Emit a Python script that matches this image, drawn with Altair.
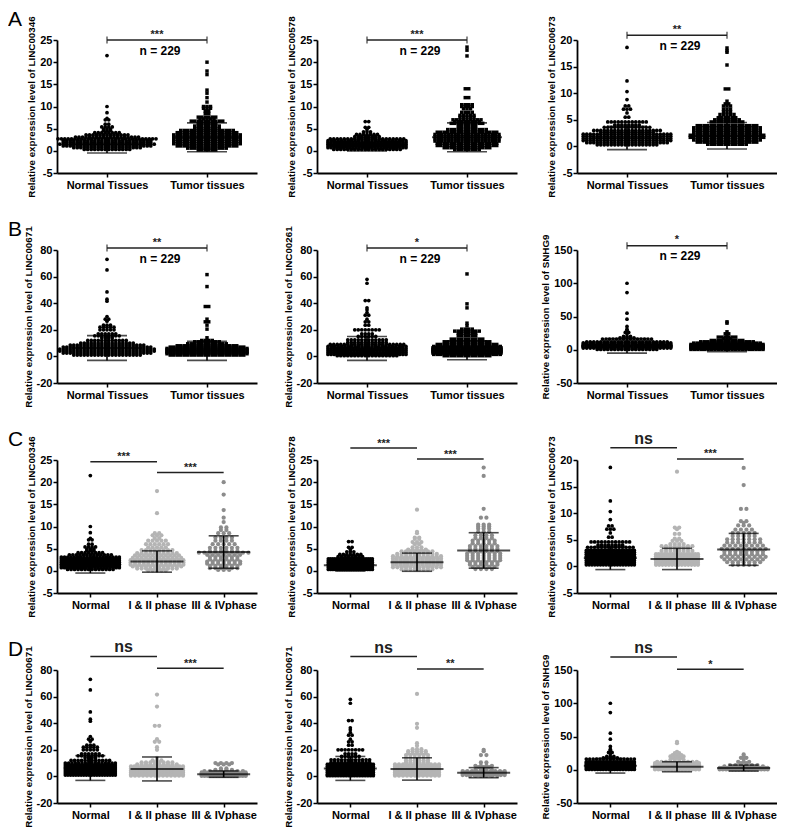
import altair as alt
import pandas as pd

FONT = "Liberation Sans"
W, H = 200, 133

# ---------------- data: (value, number of points in that row) ----------------
NORMAL_LINC00346 = [(21.5,1),(10.0,1),(8.6,1),(7.3,1),(7.0,2),(6.0,2),(5.4,4),(4.9,3),(4.6,3),(4.1,8),(3.6,13),(3.1,19),(2.7,30),(2.3,26),(1.9,26),(1.5,28),(1.1,26),(0.7,20),(0.3,14)]
TUMOR_LINC00346 = [(20.0,1),(18.0,1),(17.2,1),(13.7,1),(13.0,1),(12.0,1),(11.0,1),(10.0,3),(9.6,3),(9.0,2),(8.4,2),(7.6,6),(7.2,5),(6.7,10),(6.2,6),(5.6,8),(5.0,8),(4.6,16),(4.1,18),(3.6,20),(3.1,20),(2.6,20),(2.1,20),(1.6,20),(1.1,18),(0.6,12),(0.2,6)]
EARLY_LINC00346 = [(18.0,1),(13.0,1),(8.5,2),(8.0,3),(7.4,2),(6.8,5),(6.0,6),(5.3,5),(4.7,8),(4.0,10),(3.5,11),(2.9,12),(2.4,13),(1.9,13),(1.4,13),(1.0,12),(0.5,10),(0.1,5)]
LATE_LINC00346 = [(20.0,1),(17.2,1),(13.7,1),(12.0,1),(11.0,1),(9.8,2),(9.2,2),(8.5,3),(7.5,4),(6.8,4),(6.0,5),(5.2,6),(4.5,6),(4.1,10),(3.6,7),(3.1,6),(2.6,6),(2.1,7),(1.6,7),(1.1,6),(0.6,6),(0.2,3)]

NORMAL_LINC00578 = [(6.6,2),(5.3,2),(4.8,1),(4.3,3),(3.7,7),(3.2,8),(3.0,6),(2.7,22),(2.3,24),(1.9,26),(1.5,28),(1.1,28),(0.7,26),(0.3,20)]
TUMOR_LINC00578 = [(23.4,1),(22.7,1),(21.4,1),(14.0,2),(12.0,2),(10.4,4),(10.0,4),(9.5,3),(8.7,4),(8.0,5),(7.6,5),(7.0,9),(6.6,8),(6.2,10),(5.5,6),(4.8,12),(4.2,18),(3.7,20),(3.2,20),(2.7,20),(2.2,20),(1.7,18),(1.2,18),(0.7,14),(0.3,8)]
EARLY_LINC00578 = [(13.8,1),(8.8,1),(8.5,1),(7.5,2),(7.2,2),(6.5,3),(6.0,2),(5.3,3),(4.8,5),(4.4,8),(3.8,10),(3.3,12),(2.8,14),(2.3,14),(1.8,14),(1.3,14),(0.8,12),(0.3,8)]
LATE_LINC00578 = [(23.3,1),(21.4,1),(14.0,1),(12.0,2),(10.4,3),(10.0,3),(9.5,3),(8.8,3),(8.0,4),(7.4,4),(6.8,5),(6.2,5),(5.6,6),(5.0,6),(4.5,6),(3.9,7),(3.4,7),(2.9,7),(2.4,7),(1.9,6),(1.4,6),(0.9,5),(0.4,4)]

NORMAL_LINC00673 = [(18.6,1),(12.3,1),(10.3,1),(8.8,1),(7.6,2),(7.0,3),(6.3,1),(5.5,2),(4.6,12),(4.0,8),(3.6,14),(3.0,20),(2.65,16),(2.3,26),(1.9,26),(1.5,26),(1.1,26),(0.7,24),(0.3,18)]
TUMOR_LINC00673 = [(18.5,1),(18.0,1),(17.7,1),(15.3,1),(10.8,2),(8.5,1),(8.0,2),(7.6,3),(7.0,3),(6.5,3),(6.0,5),(5.4,6),(5.0,8),(4.6,10),(3.9,18),(3.5,20),(3.0,20),(2.6,20),(2.1,22),(1.7,22),(1.2,20),(0.8,18),(0.4,12)]
EARLY_LINC00673 = [(17.8,1),(7.3,2),(7.0,1),(6.1,2),(5.2,2),(4.8,3),(4.2,4),(3.8,8),(3.4,6),(2.9,8),(2.3,16),(1.9,18),(1.5,18),(1.1,18),(0.7,18),(0.3,14)]
LATE_LINC00673 = [(18.5,1),(15.3,1),(10.8,2),(8.5,2),(8.2,1),(7.7,3),(6.9,4),(6.3,5),(5.7,5),(5.1,7),(4.5,7),(3.9,8),(3.3,9),(2.8,8),(2.3,8),(1.8,9),(1.3,8),(0.8,7),(0.3,5)]

NORMAL_LINC00671 = [(73,1),(65,1),(48.5,1),(43,1),(41.5,1),(30,1),(28,2),(26.5,1),(23.5,3),(22,5),(20,5),(17,6),(15.5,8),(14,4),(12,12),(10,16),(8.5,22),(7,26),(5.5,28),(4,28),(2.5,26),(1,20)]
TUMOR_LINC00671 = [(61.5,1),(52.5,1),(37.5,2),(28,1),(26,2),(23.5,1),(20.5,1),(14,1),(12,4),(11,8),(9.5,12),(8,18),(7,22),(6,24),(5,24),(4,24),(3,24),(2,24),(1,22)]
EARLY_LINC00671 = [(61.5,1),(52.5,1),(38,2),(28,1),(26,2),(22,1),(20,1),(14,1),(12,3),(10.5,8),(9,10),(7.5,16),(6,18),(4.5,18),(3,18),(1.5,18),(0.5,14)]
LATE_LINC00671 = [(10,4),(9,3),(6,2),(5,4),(4,8),(3,14),(2,20),(1,22),(0.3,16)]

NORMAL_LINC00261 = [(58,1),(55,1),(42,2),(36.5,1),(35,1),(33,1),(31,2),(28,1),(26,2),(23.5,2),(20,8),(17,4),(15,6),(12.5,12),(10.5,12),(9,22),(7.5,24),(6,26),(4.5,28),(3,28),(1.5,26),(0.5,18)]
TUMOR_LINC00261 = [(62,1),(39.5,1),(36.5,1),(25,1),(23,1),(20.5,4),(19,8),(17.5,6),(15.5,6),(13,10),(11,14),(9,18),(7.5,20),(6.5,22),(5.5,22),(4.5,22),(3.5,22),(2.5,22),(1.5,20),(0.5,14)]
EARLY_LINC00261 = [(62,1),(39.5,1),(36.5,1),(25,1),(23,1),(20.5,3),(19,5),(17.5,5),(16,6),(14,6),(12,6),(10.5,6),(9,12),(7.5,16),(6,18),(4.5,18),(3,18),(1.5,16),(0.5,12)]
LATE_LINC00261 = [(20,1),(19,1),(16,2),(10.5,2),(8,4),(7,3),(6,2),(5,4),(4,10),(3,16),(2,14),(1,12),(0.3,6)]

NORMAL_SNHG9 = [(100,1),(86,1),(55,1),(46,1),(35,1),(31,1),(29,1),(26,2),(24,1),(20,3),(18,5),(16,15),(12,24),(10.5,26),(8.5,26),(6.5,28),(4.5,28),(2.5,26),(0.5,18)]
TUMOR_SNHG9 = [(42,1),(40,1),(27,1),(24,2),(23,1),(19,6),(17,3),(14,10),(12,16),(10,20),(8,24),(6.5,26),(5,28),(3.5,28),(2,28),(0.5,22)]
EARLY_SNHG9 = [(42,1),(40,1),(27,1),(25,2),(22,3),(20,4),(18,3),(15,4),(12,10),(10,14),(8,16),(6,18),(4,18),(2,18),(0.5,14)]
LATE_SNHG9 = [(23,1),(20,1),(18,2),(16,1),(12,3),(10,2),(7,6),(5,8),(3,20),(1.5,24),(0.5,16)]

# mean and SD per group
MEAN_SD_AB = {
    "LINC00346": [(1.5, 2.0), (3.05, 3.25)],
    "LINC00578": [(1.25, 1.3), (3.05, 3.25)],
    "LINC00673": [(1.6, 2.2), (2.0, 2.5)],
    "LINC00671": [(6.3, 9.3), (4.2, 7.2)],
    "LINC00261": [(6.0, 9.0), (4.5, 7.0)],
    "SNHG9": [(6.0, 11.0), (3.5, 6.5)],
}
MEAN_SD_CD = {
    "LINC00346": [(1.5, 2.0), (2.1, 2.4), (4.25, 3.65)],
    "LINC00578": [(1.25, 1.3), (1.95, 2.05), (4.6, 4.0)],
    "LINC00673": [(1.6, 2.2), (1.4, 2.0), (3.2, 3.0)],
    "LINC00671": [(6.3, 9.3), (5.6, 9.0), (1.7, 2.4)],
    "LINC00261": [(6.0, 9.0), (5.6, 8.4), (2.8, 3.8)],
    "SNHG9": [(6.0, 11.0), (4.5, 7.5), (2.5, 4.5)],
}

CATS_AB = ["Normal Tissues", "Tumor tissues"]
CATS_CD = ["Normal", "I &  II phase", "III & IVphase"]

DOMAINS = {"LINC00346": [-5, 25], "LINC00578": [-5, 25], "LINC00673": [-5, 20],
           "LINC00671": [-20, 80], "LINC00261": [-20, 80], "SNHG9": [-50, 150]}
TICKS = {"LINC00346": [-5, 0, 5, 10, 15, 20, 25], "LINC00578": [-5, 0, 5, 10, 15, 20, 25],
         "LINC00673": [-5, 0, 5, 10, 15, 20], "LINC00671": [-20, 0, 20, 40, 60, 80],
         "LINC00261": [-20, 0, 20, 40, 60, 80], "SNHG9": [-50, 0, 50, 100, 150]}

# significance brackets: (level, label)
BRACKET_AB = {"LINC00346": (25, "***"), "LINC00578": (25, "***"), "LINC00673": (20.9, "**"),
              "LINC00671": (81.5, "**"), "LINC00261": (81.5, "*"), "SNHG9": (156.5, "*")}
BRACKET_CD = {"LINC00346": [(24.6, "***"), (22.2, "***")],
              "LINC00578": [(27.7, "***"), (25.2, "***")],
              "LINC00673": [(22.3, "ns"), (20.2, "***")],
              "LINC00671": [(90.2, "ns"), (81.4, "***")],
              "LINC00261": [(90.1, "ns"), (80.8, "**")],
              "SNHG9": [(169.6, "ns"), (151.0, "*")]}

# ---------------- styles (marker look and maximal cloud width in px per group) ----------------
STYLE = {
    "nab": dict(color="#000000", shape="circle", size=14, sp=3.5),
    "tab": dict(color="#000000", shape="square", size=12, sp=3.5),
    "ncd": dict(color="#000000", shape="circle", size=14, sp=3.5),
    "i2": dict(color="#b4b4b4", shape="circle", size=18, sp=4.4),
    "i34": dict(color="#8c8c8c", shape="circle", size=18, sp=5.5),
}
CLOUD_W_AB = {"LINC00346": (98, 80), "LINC00578": (78, 64), "LINC00673": (88, 74),
              "LINC00671": (100, 80), "LINC00261": (78, 68), "SNHG9": (88, 72)}
CLOUD_W_CD = {"LINC00346": (58, 54, 58), "LINC00578": (44, 48, 60), "LINC00673": (48, 42, 46),
              "LINC00671": (50, 52, 44), "LINC00261": (46, 44, 42), "SNHG9": (48, 44, 48)}


def beeswarm(rows, sp, maxw):
    ys, offs = [], []
    for v, n in rows:
        s = sp if n < 2 else min(sp, maxw / (n - 1))
        for i in range(n):
            ys.append(v)
            offs.append((i - (n - 1) / 2) * s)
    return ys, offs


def panel(cats, groups, stats, gene_key, ytitle, brackets, ab, letter=None):
    n = len(cats)
    step = W / n
    domain = DOMAINS[gene_key]
    label_array = "[" + ",".join("'" + c + "'" for c in cats) + "]"
    xaxis = alt.Axis(values=list(range(n)), labelExpr=label_array + "[datum.value]",
                     labelAngle=0, labelFontSize=11, labelPadding=2, tickSize=4, tickWidth=1.5,
                     domainWidth=1.8, labelLimit=300, labelFlush=False, labelOverlap=False)
    xscale = alt.Scale(domain=[-0.5, n - 0.5], nice=False, zero=False)
    yaxis = alt.Axis(values=TICKS[gene_key], labelExpr="'' + datum.value", labelFontSize=11,
                     labelPadding=1, tickSize=4, tickWidth=1.5, domainWidth=1.8,
                     titleFontSize=9.8, titlePadding=3)
    yscale = alt.Scale(domain=domain, nice=False, zero=False)

    def X(f):
        return alt.X(f + ":Q", scale=xscale, axis=xaxis, title=None)

    def Y(f):
        return alt.Y(f + ":Q", scale=yscale, axis=yaxis, title=ytitle)

    styles = ("nab", "tab") if ab else ("ncd", "i2", "i34")
    widths = CLOUD_W_AB[gene_key] if ab else CLOUD_W_CD[gene_key]
    recs = []
    for idx, (rows, st, mw) in enumerate(zip(groups, styles, widths)):
        s = STYLE[st]
        ys, offs = beeswarm(rows, s["sp"], mw)
        for y, o in zip(ys, offs):
            recs.append(dict(pos=idx + o / step, y=y, color=s["color"], shape=s["shape"], size=s["size"]))
    pts = alt.Chart(pd.DataFrame(recs)).mark_point(filled=True, opacity=1, strokeWidth=0).encode(
        x=X("pos"), y=Y("y"),
        color=alt.Color("color:N", scale=None),
        shape=alt.Shape("shape:N", scale=None),
        size=alt.Size("size:Q", scale=None),
    )
    err = pd.DataFrame(dict(pos=list(range(n)), mean=[m for m, s in stats],
                            lo=[m - s for m, s in stats], hi=[m + s for m, s in stats]))
    meanw, capw = (70, 40) if ab else (53, 30)
    base = alt.Chart(err)
    layers = [
        pts,
        base.mark_rule(color="black", strokeWidth=1.6).encode(x=X("pos"), y=Y("lo"), y2="hi"),
        base.mark_tick(color="black", orient="horizontal", size=meanw, thickness=2).encode(x=X("pos"), y=Y("mean")),
        base.mark_tick(color="black", orient="horizontal", size=capw, thickness=1.6).encode(x=X("pos"), y=Y("lo")),
        base.mark_tick(color="black", orient="horizontal", size=capw, thickness=1.6).encode(x=X("pos"), y=Y("hi")),
    ]
    for i, (level, label) in enumerate(brackets):
        bdf = pd.DataFrame(dict(p1=[i], p2=[i + 1], mid=[i + 0.5], level=[level], label=[label]))
        b = alt.Chart(bdf)
        layers.append(b.mark_rule(color="#222222", strokeWidth=1.5).encode(x=X("p1"), x2="p2", y=Y("level")))
        if ab:
            edf = pd.DataFrame(dict(p=[i, i + 1], level=[level, level]))
            layers.append(alt.Chart(edf).mark_tick(color="#222222", orient="vertical", size=7, thickness=1.5)
                          .encode(x=X("p"), y=Y("level")))
        if label == "ns":
            t = b.mark_text(fontSize=16, fontWeight="bold", color="#222222", baseline="alphabetic", dy=-4)
        else:
            t = b.mark_text(fontSize=11, fontWeight="bold", color="#222222", baseline="alphabetic",
                            dy=-2.5 if ab else -1.5)
        layers.append(t.encode(x=X("mid"), y=Y("level"), text="label:N"))
        if ab:
            layers.append(b.mark_text(fontSize=12, fontWeight="bold", color="black", baseline="middle",
                                      dx=3, dy=10.5)
                          .encode(x=X("mid"), y=Y("level"), text=alt.value("n = 229")))
    if letter:
        layers.append(alt.Chart(pd.DataFrame(dict(t=[letter]))).mark_text(
            align="left", baseline="top", fontSize=21, fontWeight="normal", color="black")
            .encode(x=alt.value(-49), y=alt.value(-31), text="t:N"))
    return alt.layer(*layers).properties(width=W, height=H)


ROW_A = ["LINC00346", "LINC00578", "LINC00673"]
ROW_B = ["LINC00671", "LINC00261", "SNHG9"]
DATA_AB = {
    "LINC00346": [NORMAL_LINC00346, TUMOR_LINC00346],
    "LINC00578": [NORMAL_LINC00578, TUMOR_LINC00578],
    "LINC00673": [NORMAL_LINC00673, TUMOR_LINC00673],
    "LINC00671": [NORMAL_LINC00671, TUMOR_LINC00671],
    "LINC00261": [NORMAL_LINC00261, TUMOR_LINC00261],
    "SNHG9": [NORMAL_SNHG9, TUMOR_SNHG9],
}
DATA_CD = {
    "LINC00346": [NORMAL_LINC00346, EARLY_LINC00346, LATE_LINC00346],
    "LINC00578": [NORMAL_LINC00578, EARLY_LINC00578, LATE_LINC00578],
    "LINC00673": [NORMAL_LINC00673, EARLY_LINC00673, LATE_LINC00673],
    "LINC00671": [NORMAL_LINC00671, EARLY_LINC00671, LATE_LINC00671],
    "LINC00261": [NORMAL_LINC00261, EARLY_LINC00261, LATE_LINC00261],
    "SNHG9": [NORMAL_SNHG9, EARLY_SNHG9, LATE_SNHG9],
}
# y-axis titles as printed (panel D middle is labelled LINC00671 in the figure)
TITLES_A = ["LINC00346", "LINC00578", "LINC00673"]
TITLES_B = ["LINC00671", "LINC00261", "SNHG9"]
TITLES_C = ["LINC00346", "LINC00578", "LINC00673"]
TITLES_D = ["LINC00671", "LINC00671", "SNHG9"]


def ytitle(name):
    return "Relative expression level of " + name


panels = []
for letter, genes, titles in (("A", ROW_A, TITLES_A), ("B", ROW_B, TITLES_B)):
    for j, g in enumerate(genes):
        panels.append(panel(CATS_AB, DATA_AB[g], MEAN_SD_AB[g], g, ytitle(titles[j]),
                            [BRACKET_AB[g]], True, letter if j == 0 else None))
for letter, genes, titles in (("C", ROW_A, TITLES_C), ("D", ROW_B, TITLES_D)):
    for j, g in enumerate(genes):
        panels.append(panel(CATS_CD, DATA_CD[g], MEAN_SD_CD[g], g, ytitle(titles[j]),
                            BRACKET_CD[g], False, letter if j == 0 else None))

chart = alt.concat(*panels, columns=3, spacing={"row": 77, "column": 60}, bounds="flush").properties(
    padding={"left": 0, "top": 1, "right": 0, "bottom": 0}
).configure_view(stroke=None).configure_axis(
    domainColor="black", tickColor="black", labelColor="black", titleColor="black",
    labelFont=FONT, titleFont=FONT, labelFontWeight="bold", titleFontWeight="bold", grid=False
).configure_text(font=FONT)

chart.save("out.html", embed_options={"renderer": "svg", "actions": False})
